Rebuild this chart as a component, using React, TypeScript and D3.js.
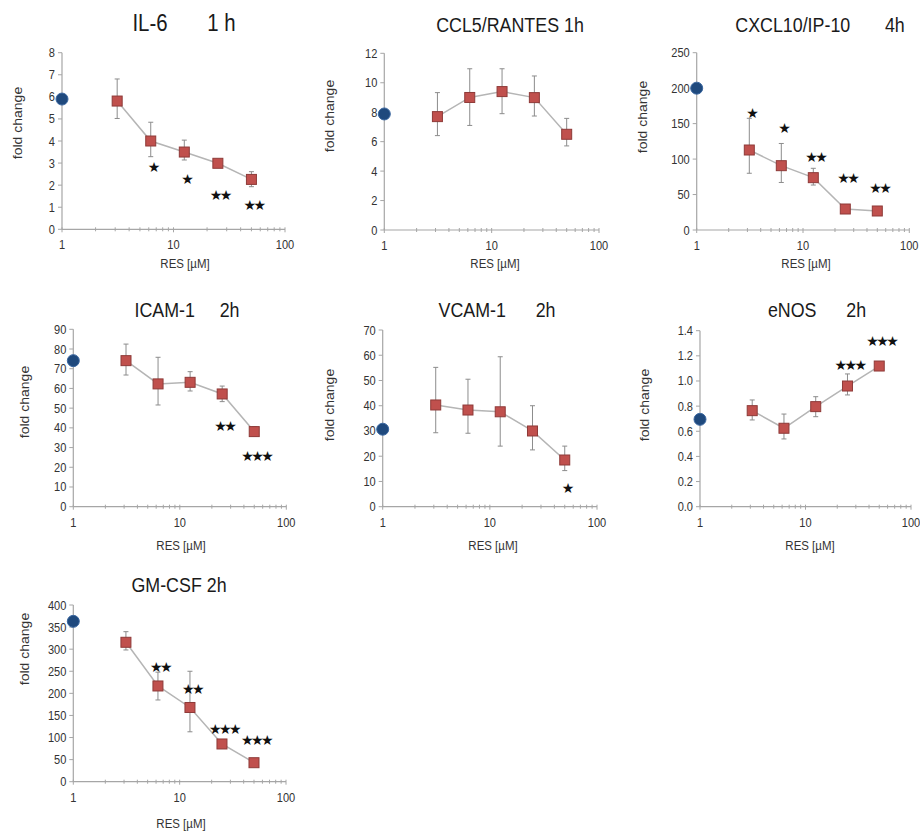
import React from "react";
import * as d3 from "d3";

// ---------- data ----------
const doses = [3.125, 6.25, 12.5, 25, 50];
const controlDose = 1;
const xMajorTicks = [1, 10, 100];

const titles = [
  "IL-6       1 h",
  "CCL5/RANTES 1h",
  "CXCL10/IP-10       4h",
  "ICAM-1     2h",
  "VCAM-1      2h",
  "eNOS      2h",
  "GM-CSF 2h",
];
const yMaxes = [8, 12, 250, 90, 70, 1.4, 400];
const ySteps = [1, 2, 50, 10, 10, 0.2, 50];
const yDecimals = [0, 0, 0, 0, 0, 1, 0];
const controls = [5.9, 7.88, 200, 74.1, 30.7, 0.695, 363];

const il6Mean = [5.81, 4.0, 3.5, 2.99, 2.26];
const il6Hi = [6.81, 4.85, 4.04, 3.08, 2.61];
const il6Lo = [5.02, 3.29, 3.14, 2.9, 1.93];
const il6Stars = ["", "★", "★", "★★", "★★"];
const il6StarY = [0, 2.84, 2.26, 1.55, 1.1];

const ccl5Mean = [7.7, 9.0, 9.4, 8.99, 6.5];
const ccl5Hi = [9.33, 10.95, 10.95, 10.46, 7.58];
const ccl5Lo = [6.41, 7.1, 7.9, 7.74, 5.71];
const ccl5Stars = ["", "", "", "", ""];
const ccl5StarY = [0, 0, 0, 0, 0];

const cxcl10Mean = [112.8, 90.7, 73.8, 29.6, 26.8];
const cxcl10Hi = [157.5, 122, 87, 33, 31];
const cxcl10Lo = [80, 67, 63.4, 26, 22.5];
const cxcl10Stars = ["★", "★", "★★", "★★", "★★"];
const cxcl10StarY = [164.5, 143.4, 103.4, 72.9, 59.7];

const icamMean = [74.1, 62.3, 63.1, 57.2, 38.1];
const icamHi = [82.5, 75.8, 68.5, 61.2, 40.6];
const icamLo = [66.8, 51.6, 58.7, 53.3, 35.9];
const icamStars = ["", "", "", "★★", "★★★"];
const icamStarY = [0, 0, 0, 41.1, 25.9];

const vcamMean = [40.3, 38.3, 37.6, 30.0, 18.5];
const vcamHi = [55.2, 50.5, 59.4, 40.0, 24.0];
const vcamLo = [29.3, 29.1, 24.0, 22.5, 14.3];
const vcamStars = ["", "", "", "", "★"];
const vcamStarY = [0, 0, 0, 0, 7.5];

const enosMean = [0.764, 0.624, 0.796, 0.96, 1.119];
const enosHi = [0.849, 0.737, 0.875, 1.056, 1.135];
const enosLo = [0.69, 0.539, 0.716, 0.889, 1.1];
const enosStars = ["", "", "", "★★★", "★★★"];
const enosStarY = [0, 0, 0, 1.127, 1.32];

const gmcsfMean = [315.6, 216.7, 168, 85.4, 43];
const gmcsfHi = [339.6, 248, 250, 93, 48];
const gmcsfLo = [298.2, 185, 113, 78, 38];
const gmcsfStars = ["", "★★", "★★", "★★★", "★★★"];
const gmcsfStarY = [0, 260.4, 209.8, 118.6, 94.4];

const means = [il6Mean, ccl5Mean, cxcl10Mean, icamMean, vcamMean, enosMean, gmcsfMean];
const his = [il6Hi, ccl5Hi, cxcl10Hi, icamHi, vcamHi, enosHi, gmcsfHi];
const los = [il6Lo, ccl5Lo, cxcl10Lo, icamLo, vcamLo, enosLo, gmcsfLo];
const stars = [il6Stars, ccl5Stars, cxcl10Stars, icamStars, vcamStars, enosStars, gmcsfStars];
const starYs = [il6StarY, ccl5StarY, cxcl10StarY, icamStarY, vcamStarY, enosStarY, gmcsfStarY];

// ---------- layout ----------
const layout = [
  { x0: 62, x1: 285, yTop: 52.7, yBot: 229.3, tx: 184, ty: 31, ts: 24, ylx: 18, yly: 123, xlx: 185, xly: 268 },
  { x0: 384.3, x1: 599, yTop: 53.3, yBot: 230, tx: 510, ty: 32, ts: 21, ylx: 330, yly: 116, xlx: 495, xly: 268 },
  { x0: 696.7, x1: 909.3, yTop: 52.7, yBot: 230, tx: 820, ty: 32, ts: 21, ylx: 643, yly: 117, xlx: 806, xly: 268 },
  { x0: 73.3, x1: 286.3, yTop: 329.3, yBot: 506.7, tx: 187, ty: 317, ts: 21, ylx: 25, yly: 402, xlx: 181, xly: 550 },
  { x0: 382.7, x1: 597, yTop: 330, yBot: 506.7, tx: 497, ty: 317, ts: 21, ylx: 330, yly: 405, xlx: 493, xly: 550 },
  { x0: 700, x1: 911, yTop: 330.7, yBot: 506.7, tx: 817, ty: 317, ts: 21, ylx: 645, yly: 405, xlx: 810, xly: 550 },
  { x0: 73.3, x1: 286, yTop: 605, yBot: 781.7, tx: 179, ty: 592, ts: 21, ylx: 25, yly: 649, xlx: 181, xly: 828 },
];

const SQ = 0.85;
const FONT = "'Liberation Sans', Arial, sans-serif";
const AXIS = "#a6a6a6";
const TEXT = "#333333";

function Panel({ i }: { i: number }) {
  const L = layout[i];
  const x = d3.scaleLog().domain([1, 100]).range([L.x0, L.x1]);
  const y = d3.scaleLinear().domain([0, yMaxes[i]]).range([L.yBot, L.yTop]);
  const yTicks = d3.range(0, yMaxes[i] + ySteps[i] / 2, ySteps[i]);
  const minor: number[] = [];
  for (const d of [1, 10]) for (let k = 2; k <= 9; k++) minor.push(d * k);
  const pts = doses.map((d, j) => [x(d), y(means[i][j])] as [number, number]);
  const line = d3.line()(pts) || "";
  const fmt = d3.format(`.${yDecimals[i]}f`);
  return (
    <g>
      {/* title */}
      <text
        transform={`translate(${L.tx},${L.ty}) scale(${SQ},1)`}
        textAnchor="middle"
        fontFamily={FONT}
        fontSize={L.ts}
        fill="#1a1a1a"
        style={{ whiteSpace: "pre" }}
      >
        {titles[i]}
      </text>
      {/* axes */}
      <line x1={L.x0} x2={L.x0} y1={L.yTop} y2={L.yBot} stroke={AXIS} strokeWidth={1.2} />
      <line x1={L.x0} x2={L.x1} y1={L.yBot} y2={L.yBot} stroke={AXIS} strokeWidth={1.2} />
      {yTicks.map((t) => (
        <g key={"y" + t}>
          <line x1={L.x0 - 4} x2={L.x0} y1={y(t)} y2={y(t)} stroke={AXIS} strokeWidth={1} />
          <text
            transform={`translate(${L.x0 - 7},${y(t) + 4.5}) scale(${SQ},1)`}
            textAnchor="end"
            fontFamily={FONT}
            fontSize={13}
            fill={TEXT}
          >
            {fmt(t)}
          </text>
        </g>
      ))}
      {xMajorTicks.map((t) => (
        <g key={"x" + t}>
          <line x1={x(t)} x2={x(t)} y1={L.yBot - 2} y2={L.yBot + 3} stroke={AXIS} strokeWidth={1} />
          <text
            transform={`translate(${x(t)},${L.yBot + 20}) scale(${SQ},1)`}
            textAnchor="middle"
            fontFamily={FONT}
            fontSize={13}
            fill={TEXT}
          >
            {t}
          </text>
        </g>
      ))}
      {minor.map((t) => (
        <line key={"m" + t} x1={x(t)} x2={x(t)} y1={L.yBot - 2} y2={L.yBot + 2} stroke={AXIS} strokeWidth={1} />
      ))}
      {/* axis labels */}
      <text
        transform={`translate(${L.xlx},${L.xly}) scale(${SQ},1)`}
        textAnchor="middle"
        fontFamily={FONT}
        fontSize={13.5}
        fill={TEXT}
      >
        RES [µM]
      </text>
      <text
        transform={`translate(${L.ylx + 4},${L.yly}) rotate(-90) scale(1,${SQ})`}
        textAnchor="middle"
        fontFamily={FONT}
        fontSize={14}
        fill={TEXT}
      >
        fold change
      </text>
      {/* connecting line */}
      <path d={line} fill="none" stroke="#b5b5b5" strokeWidth={1.5} />
      {/* error bars */}
      {doses.map((d, j) => (
        <g key={"e" + j} stroke="#8c8c8c" strokeWidth={1}>
          <line x1={x(d)} x2={x(d)} y1={y(his[i][j])} y2={y(los[i][j])} />
          <line x1={x(d) - 2.5} x2={x(d) + 2.5} y1={y(his[i][j])} y2={y(his[i][j])} />
          <line x1={x(d) - 2.5} x2={x(d) + 2.5} y1={y(los[i][j])} y2={y(los[i][j])} />
        </g>
      ))}
      {/* squares */}
      {doses.map((d, j) => (
        <rect
          key={"s" + j}
          x={x(d) - 5}
          y={y(means[i][j]) - 5}
          width={10}
          height={10}
          fill="#c0504d"
          stroke="#8e3a38"
          strokeWidth={1}
        />
      ))}
      {/* control */}
      <circle cx={x(controlDose)} cy={y(controls[i])} r={6} fill="#1f497d" stroke="#3b67a0" strokeWidth={1} />
      {/* significance stars */}
      {doses.map((d, j) =>
        stars[i][j] ? (
          <text
            key={"st" + j}
            x={x(d) + 2}
            y={y(starYs[i][j])}
            dominantBaseline="central"
            textAnchor="middle"
            fontFamily="'DejaVu Sans', sans-serif"
            fontSize={14}
            letterSpacing={-2.5}
            fill="#111"
          >
            {stars[i][j]}
          </text>
        ) : null
      )}
    </g>
  );
}

export default function App() {
  return (
    <svg
      width={920}
      height={832}
      style={{ position: "absolute", left: 0, top: 0, background: "#fff" }}
    >
      <rect width={920} height={832} fill="#fff" />
      {layout.map((_, i) => (
        <Panel key={i} i={i} />
      ))}
    </svg>
  );
}
